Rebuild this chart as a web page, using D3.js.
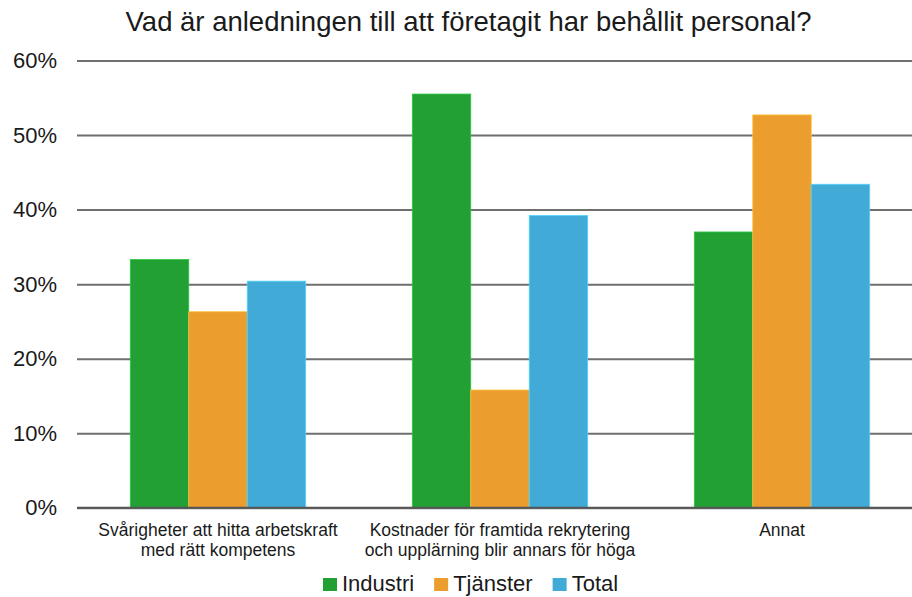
<!DOCTYPE html>
<html>
<head>
<meta charset="utf-8">
<script src="https://cdn.jsdelivr.net/npm/d3@7"></script>
<style>
  html, body { margin: 0; padding: 0; background: #fff; }
  svg { display: block; font-family: "Liberation Sans", Arial, sans-serif; }
</style>
</head>
<body>
<svg id="chart" width="912" height="597"></svg>
<script>
const title = "Vad är anledningen till att företagit har behållit personal?";
const categories = [
  ["Svårigheter att hitta arbetskraft", "med rätt kompetens"],
  ["Kostnader för framtida rekrytering", "och upplärning blir annars för höga"],
  ["Annat"]
];
const seriesNames = ["Industri", "Tjänster", "Total"];
const industri = [33.3, 55.5, 37.0];
const tjanster = [26.3, 15.8, 52.7];
const total = [30.4, 39.2, 43.4];
const colors = ["#22a033", "#eb9d2e", "#41aad6"];
const yTicks = [0, 10, 20, 30, 40, 50, 60];

const series = [industri, tjanster, total];
const svg = d3.select("#chart");
const plotLeft = 77, plotRight = 923, plotTop = 60.5, plotBottom = 507.8;

const catKeys = categories.map((c, i) => i);
const x0 = d3.scaleBand().domain(catKeys).range([plotLeft, plotRight]).paddingInner(0.378).paddingOuter(0.189);
const x1 = d3.scaleBand().domain(seriesNames).range([0, x0.bandwidth()]);
const y = d3.scaleLinear().domain([0, 60]).range([plotBottom, plotTop]);

// gridlines
const yAxis = d3.axisLeft(y).tickValues(yTicks).tickSize(-(plotRight - plotLeft)).tickPadding(20).tickFormat(d => d + "%");
const gy = svg.append("g").attr("transform", `translate(${plotLeft},0)`).call(yAxis);
gy.select(".domain").remove();
gy.selectAll(".tick line").attr("stroke", "#6f6f6f").attr("stroke-width", 2);
gy.selectAll(".tick text").attr("font-size", 22).attr("fill", "#1a1a1a")
  .attr("font-family", "'Liberation Sans', Arial, sans-serif");

// bars
const groups = svg.append("g").selectAll("g").data(catKeys).join("g")
  .attr("transform", d => `translate(${x0(d)},0)`);
groups.selectAll("rect").data(ci => seriesNames.map((s, si) => ({s, si, v: series[si][ci]})))
  .join("rect")
  .attr("x", d => x1(d.s))
  .attr("width", x1.bandwidth())
  .attr("y", d => y(d.v))
  .attr("height", d => y(0) - y(d.v))
  .attr("fill", d => colors[d.si])
  .attr("stroke", d => d3.color(colors[d.si]).brighter(0.6))
  .attr("stroke-width", 0.8);

// baseline
svg.append("line").attr("x1", plotLeft).attr("x2", plotRight).attr("y1", y(0)).attr("y2", y(0))
  .attr("stroke", "#555").attr("stroke-width", 2);

// category labels
const xl = svg.append("g");
categories.forEach((lines, i) => {
  const cx = x0(i) + x0.bandwidth() / 2;
  const t = xl.append("text").attr("text-anchor", "middle").attr("font-size", 17.5).attr("fill", "#1a1a1a");
  lines.forEach((ln, j) => {
    t.append("tspan").attr("x", cx).attr("y", 535.5 + j * 20).text(ln);
  });
});

// title
svg.append("text").attr("x", 468.5).attr("y", 31).attr("text-anchor", "middle")
  .attr("font-size", 27.5).attr("fill", "#1a1a1a").text(title);

// legend
const lg = svg.append("g");
let lx = 323;
seriesNames.forEach((name, i) => {
  lg.append("rect").attr("x", lx).attr("y", 578).attr("width", 14).attr("height", 13).attr("fill", colors[i]);
  const t = lg.append("text").attr("x", lx + 19).attr("y", 591).attr("font-size", 22).attr("fill", "#1a1a1a").text(name);
  const w = t.node().getComputedTextLength();
  lx = lx + 19 + w + 20;
});
</script>
</body>
</html>
